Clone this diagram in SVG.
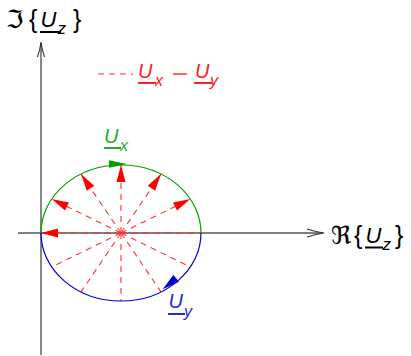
<svg xmlns="http://www.w3.org/2000/svg" width="411" height="356" viewBox="0 0 411 356">
<style>
.axis{stroke:#555;stroke-width:1.4;fill:none}
.ah{stroke:#333;stroke-width:1.1;fill:none}
.dash{stroke:#ff3030;stroke-width:1.1;stroke-dasharray:6,5;fill:none}
.t{font-family:"Liberation Sans",Arial,sans-serif}
.it{font-style:italic}
.sym{font-family:"DejaVu Sans",sans-serif}
</style>
<defs>
<marker id="ra" markerUnits="userSpaceOnUse" markerWidth="20" markerHeight="12" viewBox="-18 -6 19 12" refX="0" refY="0" orient="auto">
<path d="M0,0 L-17,-4.5 L-17,4.5 z" fill="#ff0000"/>
</marker>
</defs>
<g id="axes">
<line class="axis" x1="18" y1="233" x2="323" y2="233"/>
<path class="ah" d="M307,229 Q316,232 324,233 Q316,234 307,237"/>
<line class="axis" x1="41" y1="355" x2="41" y2="43"/>
<path class="ah" d="M37.5,57 Q40,50 41,42 Q42,50 44.5,57"/>
</g>
<g id="connectors">
<line class="dash" x1="121" y1="233" x2="190.3" y2="199" marker-end="url(#ra)"/>
<line class="dash" x1="121" y1="233" x2="161" y2="174.1" marker-end="url(#ra)"/>
<line class="dash" x1="121" y1="233" x2="121" y2="165" marker-end="url(#ra)"/>
<line class="dash" x1="121" y1="233" x2="81" y2="174.1" marker-end="url(#ra)"/>
<line class="dash" x1="121" y1="233" x2="51.7" y2="199" marker-end="url(#ra)"/>
<line class="dash" x1="121" y1="233" x2="41" y2="233" marker-end="url(#ra)"/>
<line class="dash" x1="121" y1="233" x2="201" y2="233"/>
<line class="dash" x1="121" y1="233" x2="51.7" y2="267"/>
<line class="dash" x1="121" y1="233" x2="81" y2="291.9"/>
<line class="dash" x1="121" y1="233" x2="121" y2="301"/>
<line class="dash" x1="121" y1="233" x2="161" y2="291.9"/>
<line class="dash" x1="121" y1="233" x2="190.3" y2="267"/>
</g>
<g id="ux-curve">
<path d="M41,233 A80,68 0 0 1 201,233" fill="none" stroke="#00a000" stroke-width="1.2"/>
<path d="M127,164 L109,160.2 L109,167.8 z" fill="#00a000"/>
</g>
<g id="uy-curve">
<path d="M41,233 A80,68 0 0 0 201,233" fill="none" stroke="#0000cc" stroke-width="1.2"/>
<path d="M162.7,289.3 L173.3,275 L179.0,281.7 z" fill="#0000cc"/>
</g>
<g id="im-label">
<text class="sym" x="6" y="28" font-size="25" fill="#000">ℑ</text>
<text class="t" x="29" y="28" font-size="25" fill="#000">{</text>
<text class="t it" x="40.5" y="27" font-size="22" fill="#000">U</text>
<line x1="40" y1="32" x2="61" y2="32" stroke="#000" stroke-width="2"/>
<text class="t it" x="57.5" y="34" font-size="17" fill="#000">z</text>
<text class="t" x="73" y="28" font-size="25" fill="#000">}</text>
</g>
<g id="re-label">
<text class="sym" x="331" y="244" font-size="25" fill="#000">ℜ</text>
<text class="t" x="354" y="244" font-size="25" fill="#000">{</text>
<text class="t it" x="365.5" y="243" font-size="22" fill="#000">U</text>
<line x1="365" y1="247.5" x2="383" y2="247.5" stroke="#000" stroke-width="2"/>
<text class="t it" x="382.5" y="250" font-size="17" fill="#000">z</text>
<text class="t" x="395" y="244" font-size="25" fill="#000">}</text>
</g>
<g id="ux-label">
<text class="t it" x="104" y="143" font-size="20" fill="#22b022">U</text>
<line x1="104" y1="148" x2="121" y2="148" stroke="#22b022" stroke-width="2"/>
<text class="t it" x="120" y="151" font-size="16" fill="#22b022">x</text>
</g>
<g id="uy-label">
<text class="t it" x="168.5" y="308" font-size="20" fill="#2030d0">U</text>
<line x1="168" y1="314" x2="185" y2="314" stroke="#2030d0" stroke-width="2"/>
<text class="t it" x="184" y="317" font-size="16" fill="#2030d0">y</text>
</g>
<g id="legend">
<line class="dash" x1="98" y1="74" x2="133" y2="74"/>
<text class="t it" x="138" y="78" font-size="20" fill="#ff2020">U</text>
<line x1="138" y1="83" x2="156" y2="83" stroke="#ff2020" stroke-width="2"/>
<text class="t it" x="155" y="86" font-size="16" fill="#ff2020">x</text>
<line x1="173" y1="74" x2="187" y2="74" stroke="#ff2020" stroke-width="1.4"/>
<text class="t it" x="195" y="78" font-size="20" fill="#ff2020">U</text>
<line x1="194" y1="83" x2="212" y2="83" stroke="#ff2020" stroke-width="2"/>
<text class="t it" x="210" y="86" font-size="16" fill="#ff2020">y</text>
</g>
</svg>
